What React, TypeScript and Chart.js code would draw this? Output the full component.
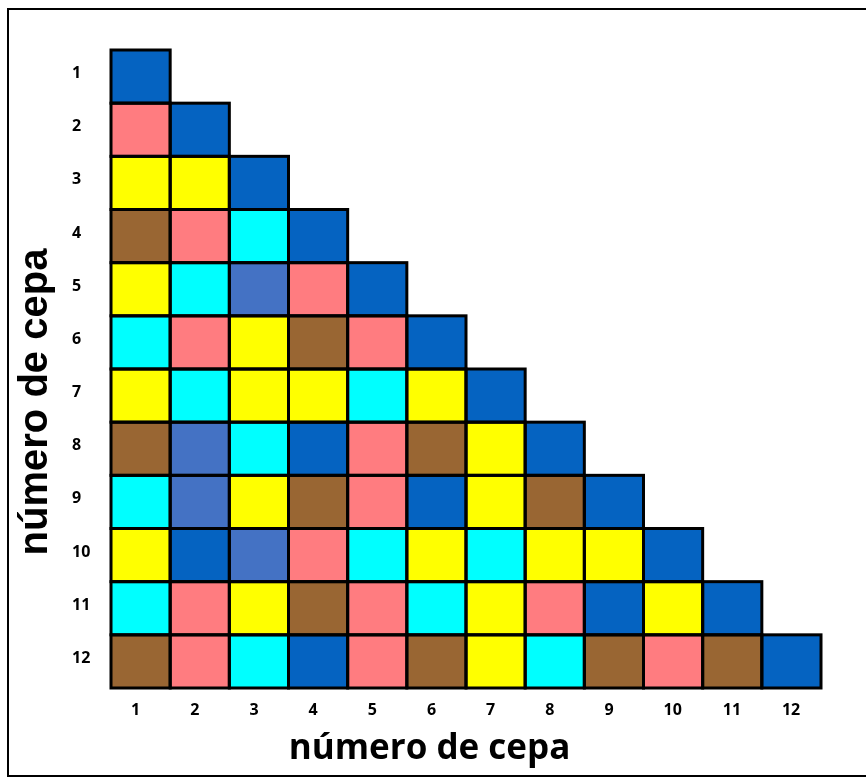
import React, { useEffect, useRef } from "react";
import { Chart, registerables } from "chart.js";

Chart.register(...registerables);

// Strain numbers (x categories and y tick labels)
const strainLabels = ["1", "2", "3", "4", "5", "6", "7", "8", "9", "10", "11", "12"];

// Colour codes used in the matrix
const palette: Record<string, string> = {
  DB: "#0563C1", // dark blue
  MB: "#4472C4", // medium blue
  P: "#FF7C80", // pink
  Y: "#FFFF00", // yellow
  BR: "#996633", // brown
  C: "#00FFFF", // cyan
};

// Lower-triangular matrix, one row per strain (columns 1..row)
const row1 = ["DB"];
const row2 = ["P", "DB"];
const row3 = ["Y", "Y", "DB"];
const row4 = ["BR", "P", "C", "DB"];
const row5 = ["Y", "C", "MB", "P", "DB"];
const row6 = ["C", "P", "Y", "BR", "P", "DB"];
const row7 = ["Y", "C", "Y", "Y", "C", "Y", "DB"];
const row8 = ["BR", "MB", "C", "DB", "P", "BR", "Y", "DB"];
const row9 = ["C", "MB", "Y", "BR", "P", "DB", "Y", "BR", "DB"];
const row10 = ["Y", "DB", "MB", "P", "C", "Y", "C", "Y", "Y", "DB"];
const row11 = ["C", "P", "Y", "BR", "P", "C", "Y", "P", "DB", "Y", "DB"];
const row12 = ["BR", "P", "C", "DB", "P", "BR", "Y", "C", "BR", "P", "BR", "DB"];
const rows = [row1, row2, row3, row4, row5, row6, row7, row8, row9, row10, row11, row12];

const axisTitle = "número de cepa";

const frameTitlesPlugin = {
  id: "frameTitles",
  afterDraw(chart: any) {
    const ctx = chart.ctx;
    ctx.save();
    // open frame (left, top, bottom)
    ctx.strokeStyle = "#000000";
    ctx.lineWidth = 2;
    ctx.beginPath();
    ctx.moveTo(chart.width, 9);
    ctx.lineTo(8, 9);
    ctx.lineTo(8, 776);
    ctx.lineTo(chart.width, 776);
    ctx.stroke();
    // axis titles
    ctx.fillStyle = "#000000";
    ctx.textAlign = "center";
    ctx.textBaseline = "alphabetic";
    ctx.font = "bold 35px 'Open Sans'";
    ctx.fillText(axisTitle, 429.5, 759);
    ctx.translate(47, 402);
    ctx.rotate(-Math.PI / 2);
    ctx.font = "bold 40px 'Liberation Sans'";
    ctx.fillText(axisTitle, 0, 0);
    ctx.restore();
  },
};

const cellBorderPlugin = {
  id: "cellBorders",
  afterDatasetsDraw(chart: any) {
    const ctx = chart.ctx;
    ctx.save();
    ctx.strokeStyle = "#000000";
    ctx.lineWidth = 3;
    chart.getSortedVisibleDatasetMetas().forEach((meta: any) => {
      meta.data.forEach((el: any, idx: number) => {
        const raw = chart.data.datasets[meta.index].data[idx];
        if (raw == null) return;
        const { x, y, base, width } = el.getProps(["x", "y", "base", "width"], true);
        if (![x, y, base, width].every((v: number) => isFinite(v))) return;
        const top = Math.min(y, base);
        const h = Math.abs(base - y);
        ctx.strokeRect(x - width / 2, top, width, h);
      });
    });
    ctx.restore();
  },
};

export default function App() {
  const ref = useRef<HTMLCanvasElement>(null);

  useEffect(() => {
    if (!ref.current) return;
    const datasets = rows.map((row, i) => {
      const rowNum = Number(strainLabels[i]);
      return {
        label: strainLabels[i],
        data: strainLabels.map((_, j) => (j < row.length ? [rowNum - 0.5, rowNum + 0.5] : null)),
        backgroundColor: strainLabels.map((_, j) => (j < row.length ? palette[row[j]] : "rgba(0,0,0,0)")),
        borderWidth: 0,
        grouped: false,
        barPercentage: 1,
        categoryPercentage: 1,
      };
    });

    const tickFont = { family: "'Open Sans'", size: 16, weight: "bold" as const };

    const chart = new Chart(ref.current, {
      type: "bar",
      data: { labels: strainLabels, datasets: datasets as any },
      options: {
        animation: false,
        responsive: false,
        devicePixelRatio: 1,
        layout: { padding: { top: 50, right: 45, left: 72, bottom: 0 } },
        plugins: {
          legend: { display: false },
          tooltip: { enabled: false },
        },
        scales: {
          x: {
            type: "category",
            grid: { display: false, drawTicks: false },
            border: { display: false },
            ticks: {
              color: "#000000",
              font: tickFont,
              padding: 13,
              maxRotation: 0,
              align: "start",
              labelOffset: -9.5,
            },
            afterFit: (scale: any) => {
              scale.height = 90;
            },
          },
          y: {
            type: "linear",
            min: 0.5,
            max: 12.5,
            reverse: true,
            grid: { display: false, drawTicks: false },
            border: { display: false },
            afterBuildTicks: (axis: any) => {
              axis.ticks = strainLabels.map((l) => ({ value: Number(l) }));
            },
            ticks: {
              color: "#000000",
              font: tickFont,
              padding: 20,
              crossAlign: "far",
              labelOffset: -3,
              callback: (v: any) => String(v),
            },
            afterFit: (scale: any) => {
              scale.width = 39;
            },
          },
        },
      },
      plugins: [cellBorderPlugin, frameTitlesPlugin],
    });
    return () => chart.destroy();
  }, []);

  return (
    <canvas
      ref={ref}
      width={866}
      height={778}
      style={{ position: "absolute", left: 0, top: 0, width: 866, height: 778 }}
    />
  );
}
